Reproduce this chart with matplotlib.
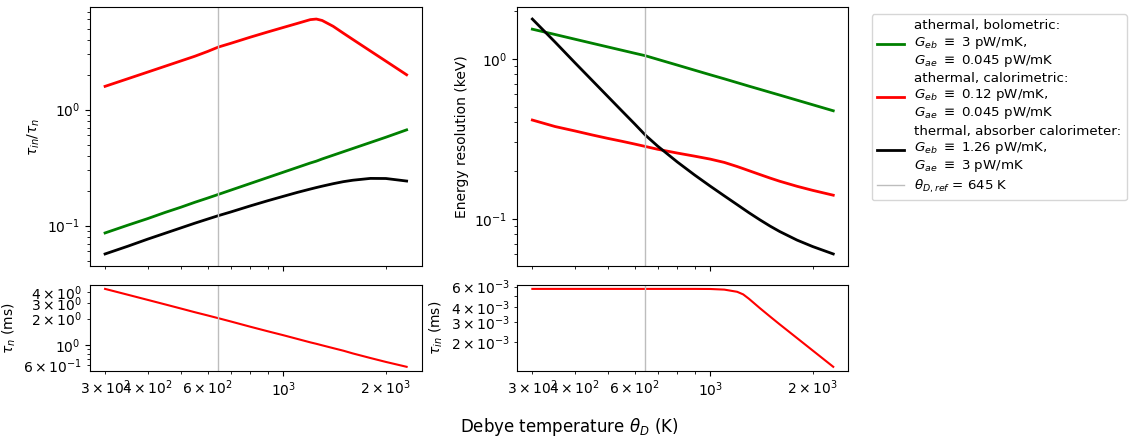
import matplotlib
matplotlib.use("Agg")
import matplotlib.pyplot as plt

# Debye temperature grid (K)
theta = [300, 350, 400, 450, 500, 550, 600, 645, 700, 800, 900, 1000,
         1100, 1200, 1250, 1300, 1400, 1500, 1600, 1800, 2000, 2300]

# tau_in / tau_n
ratio_bolo = [0.0865, 0.101, 0.115, 0.130, 0.144, 0.159, 0.173, 0.186, 0.202,
              0.231, 0.260, 0.289, 0.318, 0.347, 0.360, 0.376, 0.405, 0.434,
              0.463, 0.521, 0.579, 0.670]
ratio_calo = [1.59, 1.85, 2.11, 2.37, 2.63, 2.89, 3.18, 3.47, 3.73, 4.22,
              4.68, 5.12, 5.55, 5.98, 6.05, 5.88, 5.24, 4.57, 4.03, 3.21,
              2.62, 2.00]
ratio_therm = [0.057, 0.0665, 0.0765, 0.086, 0.0955, 0.105, 0.114, 0.122,
               0.131, 0.148, 0.164, 0.179, 0.1936, 0.2068, 0.2131, 0.219,
               0.230, 0.2395, 0.2465, 0.2555, 0.255, 0.2425]

# Energy resolution (keV)
eres_bolo = [1.53, 1.417, 1.325, 1.249, 1.185, 1.13, 1.082, 1.044, 0.992,
             0.913, 0.848, 0.794, 0.749, 0.709, 0.691, 0.674, 0.644, 0.617,
             0.593, 0.551, 0.516, 0.473]
eres_calo = [0.414, 0.377, 0.354, 0.334, 0.318, 0.305, 0.293, 0.283, 0.272,
             0.2575, 0.2462, 0.236, 0.225, 0.2121, 0.2058, 0.1998, 0.189,
             0.1796, 0.1717, 0.1596, 0.1506, 0.1404]
eres_therm = [1.77, 1.27, 0.945, 0.731, 0.581, 0.472, 0.391, 0.333, 0.285,
              0.2266, 0.1877, 0.160, 0.1391, 0.1226, 0.1155, 0.1091, 0.0985,
              0.0900, 0.0833, 0.0736, 0.0671, 0.0603]

# tau_n (ms) and tau_in (ms)
tau_n = [4.32, 3.71, 3.25, 2.89, 2.60, 2.36, 2.17, 2.02, 1.86, 1.62, 1.44,
         1.30, 1.18, 1.08, 1.04, 1.00, 0.93, 0.87, 0.81, 0.72, 0.65, 0.573]
tau_in = [5.74e-3, 5.74e-3, 5.74e-3, 5.74e-3, 5.74e-3, 5.74e-3, 5.74e-3,
          5.74e-3, 5.74e-3, 5.74e-3, 5.74e-3, 5.73e-3, 5.66e-3, 5.42e-3,
          5.15e-3, 4.72e-3, 3.92e-3, 3.32e-3, 2.85e-3, 2.17e-3, 1.70e-3,
          1.23e-3]

theta_ref = 645

labels = [
    "athermal, bolometric:\n$G_{eb}$ $\\equiv$ 3 pW/mK,\n$G_{ae}$ $\\equiv$ 0.045 pW/mK",
    "athermal, calorimetric:\n$G_{eb}$ $\\equiv$ 0.12 pW/mK,\n$G_{ae}$ $\\equiv$ 0.045 pW/mK",
    "thermal, absorber calorimeter:\n$G_{eb}$ $\\equiv$ 1.26 pW/mK,\n$G_{ae}$ $\\equiv$ 3 pW/mK",
    "$\\theta_{D,ref}$ = 645 K",
]

plt.rcParams["font.size"] = 10

fig = plt.figure(figsize=(11.29, 4.40), dpi=100)
W, H = 1129.0, 440.0

def pos(x0, y0, x1, y1):
    return [x0 / W, 1 - y1 / H, (x1 - x0) / W, (y1 - y0) / H]

ax_bl = fig.add_axes(pos(90, 285, 421.7, 370.7))
ax_tl = fig.add_axes(pos(90, 7.3, 421.7, 265.7), sharex=ax_bl)
ax_br = fig.add_axes(pos(517.3, 285, 848.3, 370.7))
ax_tr = fig.add_axes(pos(517.3, 7.3, 848.3, 265.7), sharex=ax_br)

lw = 2.0
vcol = "#bdbdbd"

g1, = ax_tl.plot(theta, ratio_bolo, color="green", lw=lw)
r1, = ax_tl.plot(theta, ratio_calo, color="red", lw=lw)
k1, = ax_tl.plot(theta, ratio_therm, color="black", lw=lw)
v1 = ax_tl.axvline(theta_ref, color=vcol, lw=1)

ax_tr.plot(theta, eres_bolo, color="green", lw=lw)
ax_tr.plot(theta, eres_calo, color="red", lw=lw)
ax_tr.plot(theta, eres_therm, color="black", lw=lw)
ax_tr.axvline(theta_ref, color=vcol, lw=1)

ax_bl.plot(theta, tau_n, color="red", lw=1.5)
ax_bl.axvline(theta_ref, color=vcol, lw=1)

ax_br.plot(theta, tau_in, color="red", lw=1.5)
ax_br.axvline(theta_ref, color=vcol, lw=1)

for ax in (ax_tl, ax_tr, ax_bl, ax_br):
    ax.set_xscale("log")
    ax.set_yscale("log")

for ax in (ax_tl, ax_tr):
    ax.tick_params(axis="x", which="both", labelbottom=False)

ax_tl.set_ylabel("$\\tau_{in}/\\tau_n$")
ax_tr.set_ylabel("Energy resolution (keV)")
ax_bl.set_ylabel("$\\tau_n$ (ms)")
ax_br.set_ylabel("$\\tau_{in}$ (ms)")

fig.text(0.504, 1 - 427 / H, "Debye temperature $\\theta_D$ (K)",
         ha="center", va="center", fontsize=12)

fig.legend([g1, r1, k1, v1], labels, loc="upper left",
           bbox_to_anchor=(871.7 / W, 1 - 14 / H), borderaxespad=0,
           fontsize=9.6, labelspacing=0.25)

fig.savefig("out.png", dpi=100)
